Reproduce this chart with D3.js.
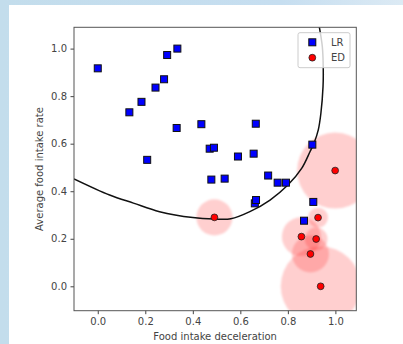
<!DOCTYPE html>
<html>
<head>
<meta charset="utf-8">
<script src="https://cdn.jsdelivr.net/npm/d3@7"></script>
<style>
html,body{margin:0;padding:0;background:#fff;}
svg{display:block;}
</style>
</head>
<body>
<script>
// ---- data ----
const xTicks = [0.0, 0.2, 0.4, 0.6, 0.8, 1.0];
const yTicks = [0.0, 0.2, 0.4, 0.6, 0.8, 1.0];

const lrX = [0.000, 0.133, 0.184, 0.243, 0.279, 0.292, 0.335, 0.332, 0.208, 0.436, 0.471, 0.489, 0.478, 0.534, 0.590, 0.656, 0.665, 0.661, 0.666, 0.717, 0.757, 0.792, 0.903, 0.907, 0.868];
const lrY = [0.917, 0.732, 0.776, 0.836, 0.871, 0.973, 1.000, 0.666, 0.532, 0.682, 0.579, 0.583, 0.449, 0.453, 0.546, 0.558, 0.684, 0.349, 0.363, 0.466, 0.436, 0.436, 0.596, 0.355, 0.276];

const edX = [0.491, 0.999, 0.927, 0.857, 0.919, 0.895, 0.938];
const edY = [0.290, 0.487, 0.289, 0.209, 0.199, 0.136, 0.000];
// halo radius in data units (x)
const edHalo = [0.076, 0.160, 0.042, 0.082, 0.048, 0.078, 0.168];

const boundaryX = [-0.10, 0.05, 0.15, 0.26, 0.40, 0.49, 0.56, 0.64, 0.725, 0.80, 0.858, 0.893, 0.910, 0.928, 0.939, 0.948, 0.949, 0.945, 0.927];
const boundaryY = [0.452, 0.384, 0.350, 0.314, 0.289, 0.283, 0.284, 0.314, 0.363, 0.426, 0.496, 0.566, 0.602, 0.658, 0.728, 0.840, 0.910, 1.008, 1.120];

const legendLabels = ["LR", "ED"];
const xLabel = "Food intake deceleration";
const yLabel = "Average food intake rate";

// ---- layout ----
const W = 403, H = 344;
const L = 74, R = 356.3, T = 27.3, B = 310.7;

const svg = d3.select("body").append("svg").attr("width", W).attr("height", H)
  .style("font-family", "'DejaVu Sans', sans-serif");

// background frame
const defs = svg.append("defs");
const grad = defs.append("linearGradient").attr("id", "topg").attr("x1", 0).attr("x2", 1);
grad.append("stop").attr("offset", 0).attr("stop-color", "#c3ddec");
grad.append("stop").attr("offset", 0.7).attr("stop-color", "#c6def0");
grad.append("stop").attr("offset", 1).attr("stop-color", "#dceaf4");
defs.append("filter").attr("id", "soft").attr("x", "-20%").attr("y", "-20%").attr("width", "140%").attr("height", "140%")
  .append("feGaussianBlur").attr("stdDeviation", 1.2);
svg.append("rect").attr("width", W).attr("height", H).attr("fill", "url(#topg)");
svg.append("rect").attr("x", 9).attr("y", 5).attr("width", W - 9).attr("height", H - 5).attr("fill", "#ffffff");

const x = d3.scaleLinear().domain([-0.1, 1.088]).range([L, R]);
const y = d3.scaleLinear().domain([-0.1026, 1.0896]).range([B, T]);

svg.append("clipPath").attr("id", "clip").append("rect")
  .attr("x", L).attr("y", T).attr("width", R - L).attr("height", B - T);

const plot = svg.append("g").attr("clip-path", "url(#clip)");

// halos
plot.append("g").attr("filter", "url(#soft)")
  .selectAll("circle.halo").data(edX.map((d, i) => i)).enter().append("circle")
  .attr("class", "halo")
  .attr("cx", i => x(edX[i])).attr("cy", i => y(edY[i]))
  .attr("r", i => x(edHalo[i]) - x(0))
  .attr("fill", "#ff0000").attr("fill-opacity", 0.19);

// boundary curve
const line = d3.line().x(d => x(d[0])).y(d => y(d[1])).curve(d3.curveCatmullRom);
plot.append("path").datum(boundaryX.map((v, i) => [v, boundaryY[i]]))
  .attr("d", line).attr("fill", "none").attr("stroke", "#111").attr("stroke-width", 1.5);

// LR squares
const s = 7;
plot.selectAll("rect.lr").data(lrX.map((d, i) => i)).enter().append("rect")
  .attr("class", "lr")
  .attr("x", i => x(lrX[i]) - s / 2).attr("y", i => y(lrY[i]) - s / 2)
  .attr("width", s).attr("height", s)
  .attr("fill", "#0000ff").attr("stroke", "#111").attr("stroke-width", 1);

// ED circles
plot.selectAll("circle.ed").data(edX.map((d, i) => i)).enter().append("circle")
  .attr("class", "ed")
  .attr("cx", i => x(edX[i])).attr("cy", i => y(edY[i])).attr("r", 3.4)
  .attr("fill", "#ff0000").attr("stroke", "#222").attr("stroke-width", 0.8);

// axes
const xAxis = svg.append("g").attr("transform", `translate(0,${B})`)
  .call(d3.axisBottom(x).tickValues(xTicks).tickFormat(d3.format(".1f")).tickSize(3.5).tickPadding(3.5));
const yAxis = svg.append("g").attr("transform", `translate(${L},0)`)
  .call(d3.axisLeft(y).tickValues(yTicks).tickFormat(d3.format(".1f")).tickSize(3.5).tickPadding(3.5));
[xAxis, yAxis].forEach(a => {
  a.select(".domain").remove();
  a.selectAll("line").attr("stroke", "#444");
  a.selectAll("text").attr("fill", "#444").style("font-size", "10px").style("font-family", "'DejaVu Sans', sans-serif");
});

// spines
svg.append("rect").attr("x", L).attr("y", T).attr("width", R - L).attr("height", B - T)
  .attr("fill", "none").attr("stroke", "#555").attr("stroke-width", 1);

// axis labels
svg.append("text").attr("x", (L + R) / 2).attr("y", 340).attr("text-anchor", "middle")
  .attr("fill", "#444").style("font-size", "10px").text(xLabel);
svg.append("text").attr("transform", `translate(43,${(T + B) / 2}) rotate(-90)`).attr("text-anchor", "middle")
  .attr("fill", "#444").style("font-size", "10px").text(yLabel);

// legend
const lg = svg.append("g");
lg.append("rect").attr("x", 298).attr("y", 32.7).attr("width", 52).attr("height", 35).attr("rx", 2)
  .attr("fill", "#fff").attr("fill-opacity", 0.8).attr("stroke", "#ccc").attr("stroke-width", 1);
lg.append("rect").attr("x", 312.3 - s / 2).attr("y", 42.3 - s / 2).attr("width", s).attr("height", s)
  .attr("fill", "#0000ff").attr("stroke", "#111").attr("stroke-width", 1);
lg.append("circle").attr("cx", 312.3).attr("cy", 57.7).attr("r", 3.4)
  .attr("fill", "#ff0000").attr("stroke", "#222").attr("stroke-width", 0.8);
lg.selectAll("text.lg").data(legendLabels).enter().append("text")
  .attr("x", 331).attr("y", (d, i) => 46 + i * 15.4)
  .attr("fill", "#444").style("font-size", "10px").text(d => d);
</script>
</body>
</html>
